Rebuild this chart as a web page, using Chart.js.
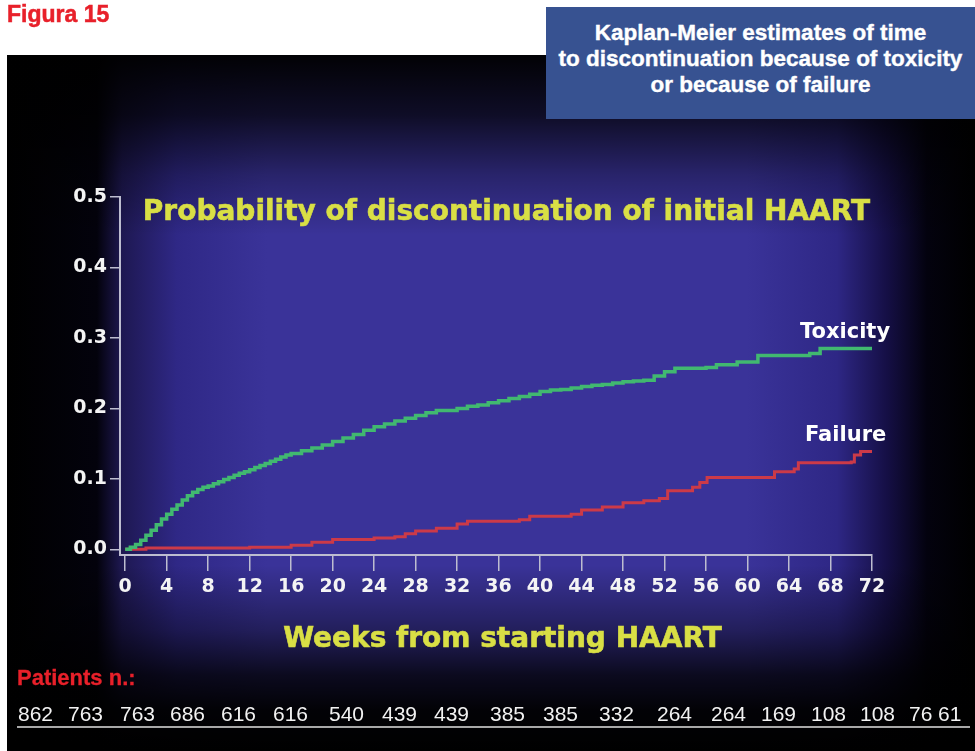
<!DOCTYPE html>
<html>
<head>
<meta charset="utf-8">
<script src="https://cdn.jsdelivr.net/npm/chart.js@4"></script>
<style>
  html, body { margin: 0; padding: 0; background: #fff; }
  #page { position: relative; width: 975px; height: 751px; overflow: hidden; background: #fff; }
  #panel {
    position: absolute; left: 7px; top: 55px; width: 968px; height: 696px;
    background: linear-gradient(to right, #000 0px, #03020c 90px, #1e1852 115px, #2f2886 170px, #3a3399 260px, #3a3399 740px, #2e2785 830px, #150f45 880px, #03020e 920px, #000 968px);
  }
  #shade {
    position: absolute; left: 7px; top: 55px; width: 968px; height: 696px;
    background: linear-gradient(to bottom, rgba(0,0,0,0.97) 0px, rgba(0,0,0,0.75) 60px, rgba(0,0,0,0.3) 120px, rgba(0,0,0,0) 180px, rgba(0,0,0,0) 510px, rgba(0,0,0,0.4) 575px, rgba(0,0,0,0.8) 620px, rgba(0,0,0,0.96) 655px, #000 696px);
  }
  #chart { position: absolute; left: 0; top: 0; }
  .txt { position: absolute; white-space: nowrap; }
  #fig { left: 7px; top: 1px; color: #e8202a; font: bold 23px "Liberation Sans", Arial, sans-serif; -webkit-text-stroke: 0.5px #e8202a; }
  #box {
    position: absolute; left: 546px; top: 7px; width: 429px; height: 112px; background: #375291;
    color: #fff; font: bold 22.5px "Liberation Sans", Arial, sans-serif; text-align: center; line-height: 26px;
    padding-top: 13px; box-sizing: border-box; -webkit-text-stroke: 0.4px #fff;
  }
  .yel { color: #d9df45; font: bold 28px "DejaVu Sans", sans-serif; -webkit-text-stroke: 0.6px #d9df45; }
  #title { left: 0; width: 1013px; top: 194px; text-align: center; }
  #xlab { left: 0; width: 1005px; top: 621px; text-align: center; }
  .series { color: #fff; font: bold 21px "DejaVu Sans", sans-serif; }
  #tox { left: 800px; top: 319px; }
  #fail { left: 805px; top: 422px; }
  #pat { left: 17px; top: 665px; color: #e8202a; font: bold 22px "Liberation Sans", Arial, sans-serif; -webkit-text-stroke: 0.3px #e8202a; }
  #risk { position: absolute; left: 0; top: 702px; width: 975px; height: 26px; color: #f2f2f2; font: 21px "Liberation Sans", Arial, sans-serif; }
  #risk span { position: absolute; top: 0; }
  #rule { position: absolute; left: 17px; top: 726px; width: 953px; height: 2px; background: #a8a8a8; }
</style>
</head>
<body>
<div id="page">
  <div id="panel"></div>
  <div id="shade"></div>
  <canvas id="chart" width="975" height="751"></canvas>
  <div class="txt" id="fig">Figura 15</div>
  <div id="box">Kaplan-Meier estimates of time<br>to discontinuation because of toxicity<br>or because of failure</div>
  <div class="txt yel" id="title">Probability of discontinuation of initial HAART</div>
  <div class="txt yel" id="xlab">Weeks from starting HAART</div>
  <div class="txt series" id="tox">Toxicity</div>
  <div class="txt series" id="fail">Failure</div>
  <div class="txt" id="pat">Patients n.:</div>
  <div id="risk"></div>
  <div id="rule"></div>
</div>
<script>
// time to discontinuation for toxicity (weeks, cumulative probability)
const toxWeeks = [0, 0.5, 1, 1.5, 2, 2.5, 3, 3.5, 4, 4.5, 5, 5.5, 6, 6.5, 7, 7.5, 8, 8.5, 9, 9.5, 10, 10.5, 11, 11.5, 12, 12.5, 13, 13.5, 14, 14.5, 15, 15.5, 16, 17, 18, 19, 20, 21, 22, 23, 24, 25, 26, 27, 28, 29, 30, 32, 33, 34, 35, 36, 37, 38, 39, 40, 41, 42, 43, 44, 45, 46, 47, 48, 49, 50, 51, 52, 53, 56, 57, 59, 61, 66, 67, 72];
const toxProb = [0, 0.003, 0.007, 0.013, 0.02, 0.027, 0.035, 0.043, 0.05, 0.057, 0.063, 0.07, 0.076, 0.081, 0.085, 0.088, 0.09, 0.093, 0.096, 0.099, 0.102, 0.105, 0.108, 0.11, 0.113, 0.116, 0.119, 0.122, 0.125, 0.128, 0.131, 0.134, 0.136, 0.14, 0.144, 0.148, 0.153, 0.158, 0.163, 0.169, 0.174, 0.178, 0.182, 0.186, 0.19, 0.194, 0.197, 0.2, 0.203, 0.205, 0.208, 0.211, 0.214, 0.217, 0.22, 0.224, 0.226, 0.227, 0.229, 0.231, 0.233, 0.234, 0.236, 0.238, 0.239, 0.24, 0.246, 0.252, 0.257, 0.258, 0.262, 0.266, 0.275, 0.278, 0.285, 0.285];

// time to discontinuation for failure
const failWeeks = [0, 2, 12, 16, 18, 20, 24, 26, 27, 28, 30, 32, 33, 38, 39, 43, 44, 46, 48, 50, 51.5, 52.3, 54.7, 55.4, 56.1, 62.3, 62.6, 64.5, 64.9, 70, 70.3, 70.9, 72];
const failProb = [0, 0.002, 0.003, 0.006, 0.01, 0.014, 0.016, 0.018, 0.022, 0.026, 0.03, 0.036, 0.04, 0.042, 0.047, 0.05, 0.056, 0.06, 0.066, 0.069, 0.072, 0.083, 0.088, 0.095, 0.102, 0.102, 0.11, 0.114, 0.123, 0.124, 0.134, 0.139, 0.139];

const weekTicks = [0, 4, 8, 12, 16, 20, 24, 28, 32, 36, 40, 44, 48, 52, 56, 60, 64, 68, 72];
const probTicks = [0, 0.1, 0.2, 0.3, 0.4, 0.5];
const atRisk = [862, 763, 763, 686, 616, 616, 540, 439, 439, 385, 385, 332, 264, 264, 169, 108, 108, 76, 61];

// left edge of each at-risk number under the plot (layout only)
const riskLeft = [18, 68, 120, 170, 221, 273, 329, 382, 434, 490, 543, 599, 657, 711, 761, 811, 860, 909, 938];

const riskRow = document.getElementById('risk');
atRisk.forEach((n, i) => {
    const s = document.createElement('span');
    s.textContent = n;
    s.style.left = riskLeft[i] + 'px';
    riskRow.appendChild(s);
});

function pts(xs, ys) {
    return xs.map((x, i) => ({ x: x, y: ys[i] }));
}

const axisGrey = '#bdbdd0';
const tickFont = { family: 'DejaVu Sans', weight: 'bold', size: 19 };

new Chart(document.getElementById('chart').getContext('2d'), {
    type: 'line',
    data: {
        datasets: [{
            label: 'Toxicity',
            data: pts(toxWeeks, toxProb),
            borderColor: '#41b870',
            borderWidth: 3.5,
            stepped: true,
            pointRadius: 0
        }, {
            label: 'Failure',
            data: pts(failWeeks, failProb),
            borderColor: '#cc3a48',
            borderWidth: 3,
            stepped: true,
            pointRadius: 0
        }]
    },
    options: {
        responsive: false,
        animation: false,
        layout: { padding: { left: 0, right: 103, top: 197, bottom: 136 } },
        plugins: { legend: { display: false }, tooltip: { enabled: false } },
        scales: {
            x: {
                type: 'linear',
                min: -0.5,
                max: 72,
                afterBuildTicks: s => { s.ticks = weekTicks.map(v => ({ value: v })); },
                afterFit: s => { s.height = 60; },
                grid: { drawOnChartArea: false, drawTicks: true, tickLength: 16, color: axisGrey, lineWidth: 1.5 },
                border: { display: true, color: axisGrey, width: 2 },
                ticks: { color: '#f4f4f4', font: tickFont, padding: 5, maxRotation: 0, autoSkip: false }
            },
            y: {
                min: -0.008,
                max: 0.5,
                afterBuildTicks: s => { s.ticks = probTicks.map(v => ({ value: v })); },
                afterFit: s => { s.width = 120; },
                grid: { drawOnChartArea: false, drawTicks: true, tickLength: 10, color: axisGrey, lineWidth: 1.5 },
                border: { display: true, color: axisGrey, width: 2 },
                ticks: { color: '#f4f4f4', font: tickFont, padding: 3, autoSkip: false, callback: v => v.toFixed(1) }
            }
        }
    }
});
</script>
</body>
</html>
